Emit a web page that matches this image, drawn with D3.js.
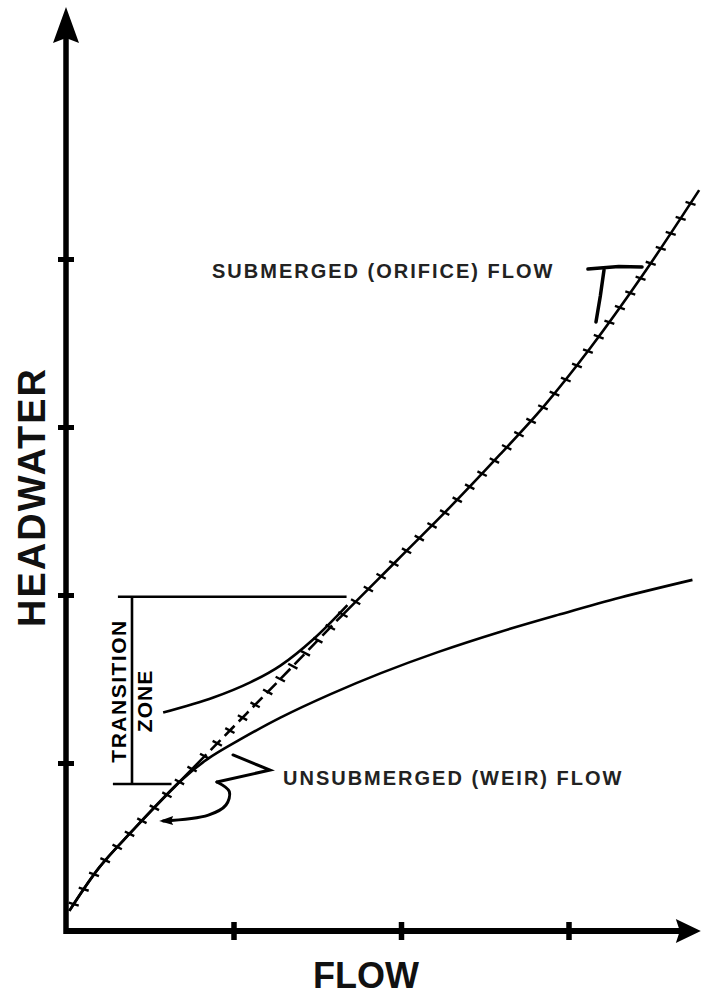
<!DOCTYPE html>
<html><head><meta charset="utf-8">
<script src="https://cdn.jsdelivr.net/npm/d3@7"></script>
<style>body{margin:0;background:#fff} svg{display:block}</style>
</head><body>
<script>
// ---- data (flow, headwater in arbitrary axis units) ----
const xTicks = [1, 2, 3];
const yTicks = [1, 2, 3, 4];
const axisMaxFlow = 3.79;
const axisMaxHead = 5.5;

// composite (orifice) rating curve, hatched
const orificeFlow = [0.02, 0.20, 0.39, 0.68, 0.98, 1.28, 1.62, 1.98, 2.29, 2.59, 2.85, 3.13, 3.44, 3.78];
const orificeHead = [0.12, 0.38, 0.59, 0.89, 1.195, 1.50, 1.85, 2.21, 2.52, 2.835, 3.12, 3.47, 3.90, 4.41];
// dashed portion of orifice curve (transition zone)
const dashedFrom = 0.78, dashedTo = 1.66;

// unsubmerged (weir) curve
const weirFlow = [0.02, 0.20, 0.39, 0.68, 0.84, 1.04, 1.28, 1.58, 1.88, 2.22, 2.59, 2.95, 3.31, 3.74];
const weirHead = [0.12, 0.38, 0.59, 0.89, 1.02, 1.14, 1.27, 1.41, 1.535, 1.66, 1.78, 1.885, 1.985, 2.09];

// upper transition curve
const transFlow = [0.58, 0.88, 1.10, 1.28, 1.48, 1.68];
const transHead = [1.30, 1.39, 1.48, 1.58, 1.74, 1.94];

// transition zone bracket (headwater bounds)
const transitionBottom = 0.875, transitionTop = 1.99;
const bracketFlow = 0.394;

const labelSub = "SUBMERGED (ORIFICE) FLOW";
const labelWeir = "UNSUBMERGED (WEIR) FLOW";
const xTitle = "FLOW", yTitle = "HEADWATER";
const zoneWords = ["TRANSITION", "ZONE"];

// leader pointers (data coords)
const subPointerH = [[3.116, 3.94], [3.30, 3.955], [3.439, 3.952]];
const subPointerV = [[3.212, 3.935], [3.19, 3.78], [3.164, 3.625]];
const weirPointerA = [[0.997, 1.048], [1.218, 0.958], [0.901, 0.887]];
const weirPointerB = [[0.901, 0.887], [0.975, 0.83], [0.955, 0.75], [0.85, 0.69], [0.58, 0.655]];

// ---- drawing ----
const W = 703, H = 1003;
const svg = d3.select("body").append("svg").attr("width", W).attr("height", H);
const x = d3.scaleLinear().domain([0, 4]).range([66, 736]);
const y = d3.scaleLinear().domain([0, 5.5]).range([931, 7]);
const font = "'Liberation Sans', Arial, Helvetica, sans-serif";

// axes
const gx = svg.append("g").attr("transform", `translate(0,${y(0)})`)
  .call(d3.axisBottom(x).tickValues(xTicks).tickFormat("").tickSizeOuter(0));
gx.select(".domain").remove();
gx.selectAll(".tick line").attr("y1", -9).attr("y2", 9).attr("stroke", "#000").attr("stroke-width", 5.5);

const gy = svg.append("g").attr("transform", `translate(${x(0)},0)`)
  .call(d3.axisLeft(y).tickValues(yTicks).tickFormat("").tickSizeOuter(0));
gy.select(".domain").remove();
gy.selectAll(".tick line").attr("x1", -8).attr("x2", 8).attr("stroke", "#000").attr("stroke-width", 5);

// axis lines + arrowheads
svg.append("line").attr("x1", x(0)).attr("x2", x(axisMaxFlow) - 14)
  .attr("y1", y(0)).attr("y2", y(0)).attr("stroke", "#000").attr("stroke-width", 6);
svg.append("line").attr("x1", x(0)).attr("x2", x(0))
  .attr("y1", y(0) + 3).attr("y2", y(axisMaxHead) + 25).attr("stroke", "#000").attr("stroke-width", 5.5);
const xt = x(axisMaxFlow), yt = y(0);
svg.append("path").attr("d", `M${xt},${yt} L${xt - 25},${yt - 12} L${xt - 21},${yt} L${xt - 25},${yt + 12} Z`).attr("fill", "#000");
const ax = x(0), ay = y(axisMaxHead);
svg.append("path").attr("d", `M${ax},${ay} L${ax - 13},${ay + 36} L${ax},${ay + 31} L${ax + 13},${ay + 36} Z`).attr("fill", "#000");

const line = d3.line().x(d => x(d[0])).y(d => y(d[1])).curve(d3.curveCatmullRom.alpha(0.5));

// weir curve
svg.append("path").attr("d", line(d3.zip(weirFlow, weirHead)))
  .attr("fill", "none").attr("stroke", "#000").attr("stroke-width", 2.6);

// transition curve
svg.append("path").attr("d", line(d3.zip(transFlow, transHead)))
  .attr("fill", "none").attr("stroke", "#000").attr("stroke-width", 2.6);

// orifice curve with dashed transition segment
const orif = svg.append("path").attr("d", line(d3.zip(orificeFlow, orificeHead)))
  .attr("fill", "none").attr("stroke", "#000").attr("stroke-width", 2.6);
const node = orif.node();
const L = node.getTotalLength();
function lenAtX(px) {
  let lo = 0, hi = L;
  for (let i = 0; i < 40; i++) { const m = (lo + hi) / 2; if (node.getPointAtLength(m).x < px) lo = m; else hi = m; }
  return lo;
}
const l1 = lenAtX(x(dashedFrom)), l2 = lenAtX(x(dashedTo));
const dash = [l1, 0];
let pos = l1;
while (pos + 20 < l2) { dash.push(14, 6); pos += 20; }
dash.push(L - pos + 10, 0);
orif.attr("stroke-dasharray", dash.join(" "));

// hatch marks
const hatch = svg.append("g");
for (let s = 8; s < L - 2; s += 18) {
  const p = node.getPointAtLength(s), q = node.getPointAtLength(Math.min(L, s + 1));
  let dx = q.x - p.x, dy = q.y - p.y; const n = Math.hypot(dx, dy) || 1; dx /= n; dy /= n;
  const nx = -dy, ny = dx;
  hatch.append("line")
    .attr("x1", p.x + nx * 5 + dx * 1.5).attr("y1", p.y + ny * 5 + dy * 1.5)
    .attr("x2", p.x - nx * 5 - dx * 1.5).attr("y2", p.y - ny * 5 - dy * 1.5)
    .attr("stroke", "#000").attr("stroke-width", 2.4);
}

// transition zone bracket
const bk = svg.append("g").attr("stroke", "#000").attr("stroke-width", 2.6).attr("fill", "none");
bk.append("line").attr("x1", x(0.31)).attr("x2", x(1.675)).attr("y1", y(transitionTop)).attr("y2", y(transitionTop));
bk.append("line").attr("x1", x(0.28)).attr("x2", x(0.63)).attr("y1", y(transitionBottom)).attr("y2", y(transitionBottom));
bk.append("line").attr("x1", x(bracketFlow)).attr("x2", x(bracketFlow)).attr("y1", y(transitionTop)).attr("y2", y(transitionBottom));

// pointers
const lin = d3.line().x(d => x(d[0])).y(d => y(d[1]));
const crv = d3.line().x(d => x(d[0])).y(d => y(d[1])).curve(d3.curveCatmullRom.alpha(0.5));
const ptr = svg.append("g").attr("stroke", "#000").attr("fill", "none").attr("stroke-linecap", "round");
ptr.append("path").attr("d", lin(subPointerH)).attr("stroke-width", 3.5);
ptr.append("path").attr("d", lin(subPointerV)).attr("stroke-width", 3.5);
ptr.append("path").attr("d", lin(weirPointerA)).attr("stroke-width", 3);
ptr.append("path").attr("d", crv(weirPointerB)).attr("stroke-width", 3);
const tip = weirPointerB[weirPointerB.length - 1];
svg.append("path").attr("d", `M${x(tip[0]) - 4},${y(tip[1])} l14,-5 l-2,5 l2,4 Z`).attr("fill", "#000");

// labels
svg.append("text").attr("x", 212).attr("y", 278).text(labelSub)
  .attr("font-family", font).attr("font-weight", "bold").attr("font-size", 20)
  .attr("letter-spacing", 2).attr("fill", "#222");
svg.append("text").attr("x", 283).attr("y", 785).text(labelWeir)
  .attr("font-family", font).attr("font-weight", "bold").attr("font-size", 20)
  .attr("letter-spacing", 2).attr("fill", "#222");

svg.append("text").attr("x", 366).attr("y", 988).attr("text-anchor", "middle").text(xTitle)
  .attr("font-family", font).attr("font-weight", "bold").attr("font-size", 36).attr("fill", "#111");
svg.append("text").attr("transform", "translate(45,497) rotate(-90)").attr("text-anchor", "middle").text(yTitle)
  .attr("font-family", font).attr("font-weight", "bold").attr("font-size", 38)
  .attr("letter-spacing", 2).attr("fill", "#111");

svg.append("text").attr("transform", "translate(126,691) rotate(-90)").attr("text-anchor", "middle").text(zoneWords[0])
  .attr("font-family", font).attr("font-weight", "bold").attr("font-size", 21).attr("letter-spacing", 1.5).attr("fill", "#000");
svg.append("text").attr("transform", "translate(152,701) rotate(-90)").attr("text-anchor", "middle").text(zoneWords[1])
  .attr("font-family", font).attr("font-weight", "bold").attr("font-size", 21).attr("letter-spacing", 1).attr("fill", "#000");
</script>
</body></html>
